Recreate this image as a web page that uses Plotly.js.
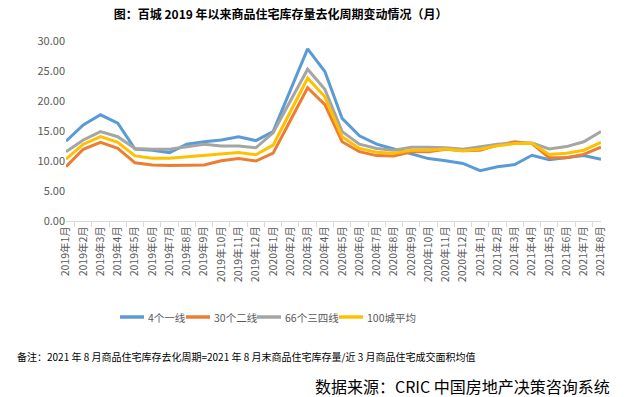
<!DOCTYPE html>
<html>
<head>
<meta charset="utf-8">
<script src="https://cdn.plot.ly/plotly-3.0.1.min.js"></script>
<style>html,body{margin:0;padding:0;background:#fff;}#chart{width:628px;height:397px;}</style>
</head>
<body>
<div id="chart"></div>
<script>
const months = ["2019年1月","2019年2月","2019年3月","2019年4月","2019年5月","2019年6月","2019年7月","2019年8月","2019年9月","2019年10月","2019年11月","2019年12月",
"2020年1月","2020年2月","2020年3月","2020年4月","2020年5月","2020年6月","2020年7月","2020年8月","2020年9月","2020年10月","2020年11月","2020年12月",
"2021年1月","2021年2月","2021年3月","2021年4月","2021年5月","2021年6月","2021年7月","2021年8月"];
const tier1 = [13.3,16.0,17.7,16.3,12.0,11.8,11.4,12.8,13.2,13.5,14.05,13.4,14.9,21.8,28.7,24.9,17.1,14.2,12.8,12.0,11.2,10.4,10.05,9.6,8.4,9.05,9.4,10.95,10.2,10.6,10.9,10.3];
const tier2 = [9.05,11.95,13.1,12.1,9.7,9.35,9.25,9.35,9.35,10.05,10.4,10.0,11.3,16.75,22.2,19.4,13.2,11.55,10.9,10.85,11.55,11.55,11.95,11.7,11.8,12.65,13.2,12.9,10.55,10.55,11.1,12.3];
const tier34 = [11.55,13.5,14.9,14.05,12.1,11.95,11.95,12.4,12.8,12.5,12.5,12.2,14.7,20.0,25.3,21.95,14.9,12.8,12.1,11.8,12.3,12.3,12.2,11.95,12.4,12.8,12.95,13.0,12.0,12.4,13.2,14.9];
const avg100 = [10.3,12.8,14.05,13.1,10.85,10.45,10.45,10.7,10.9,11.2,11.4,11.05,12.65,18.2,23.8,20.7,14.05,12.1,11.45,11.3,11.8,11.8,12.0,11.7,11.95,12.55,12.9,12.95,11.1,11.3,11.8,13.1];
const seriesNames = ["4个一线","30个二线","66个三四线","100城平均"];
const colors = ["#5B9BD5","#ED7D31","#A5A5A5","#FFC000"];
const allSeries = [tier1, tier2, tier34, avg100];

const font = "'Noto Sans CJK SC', 'Noto Sans', sans-serif";
const traces = allSeries.map((ys, i) => ({
  type: "scatter", mode: "lines", x: months, y: ys, name: seriesNames[i],
  line: {color: colors[i], width: 3}
}));

// compact legend drawn as shapes + labels (pixel layout converted to paper coords)
const plotL = 66, plotW = 535, plotB = 221, plotH = 180;
const px = v => (v - plotL) / plotW;
const py = v => (plotB - v) / plotH;
const legendStarts = [120, 186, 257, 339];
const legendY = 317;
const shapes = [], annotations = [];
seriesNames.forEach((n, i) => {
  const x0 = legendStarts[i];
  shapes.push({type: "line", xref: "paper", yref: "paper", x0: px(x0), x1: px(x0 + 24),
    y0: py(legendY), y1: py(legendY), line: {color: colors[i], width: 3.5}});
  annotations.push({text: n, xref: "paper", yref: "paper", x: px(x0 + 26), y: py(legendY),
    xanchor: "left", yanchor: "middle", showarrow: false, font: {size: 10.5, color: "#595959"}});
});
annotations.push(
  {text: "备注：2021 年 8 月商品住宅库存去化周期=2021 年 8 月末商品住宅库存量/近 3 月商品住宅成交面积均值",
   xref: "paper", yref: "paper", x: px(15), y: py(356), xanchor: "left", yanchor: "middle", showarrow: false,
   font: {size: 10, color: "#000"}},
  {text: "数据来源：CRIC 中国房地产决策咨询系统",
   xref: "paper", yref: "paper", x: px(612), y: py(386), xanchor: "right", yanchor: "middle", showarrow: false,
   font: {size: 16, color: "#000"}}
);

const layout = {
  width: 628, height: 397,
  margin: {l: 66, r: 27, t: 41, b: 176},
  paper_bgcolor: "#fff", plot_bgcolor: "#fff",
  font: {family: font, color: "#595959", size: 11},
  title: {text: "<b>图：百城 2019 年以来商品住宅库存量去化周期变动情况（月）</b>",
    font: {family: font, size: 12, color: "#000"},
    xref: "container", x: 0.447, xanchor: "center", yref: "container", y: 0.962, yanchor: "middle"},
  xaxis: {type: "category", showgrid: false, showline: true, linecolor: "#d9d9d9", linewidth: 1,
    ticks: "outside", tickson: "boundaries", ticklen: 5, tickcolor: "#d9d9d9",
    tickangle: -90, tickfont: {size: 10.5, color: "#595959"}, automargin: false, fixedrange: true},
  yaxis: {range: [0, 30], dtick: 5, tickformat: ".2f", showgrid: false, zeroline: false, showline: false,
    tickfont: {size: 11, color: "#595959"}, ticks: "", automargin: false},
  showlegend: false,
  shapes: shapes,
  annotations: annotations
};
Plotly.newPlot("chart", traces, layout, {displayModeBar: false, staticPlot: true});
</script>
</body>
</html>
